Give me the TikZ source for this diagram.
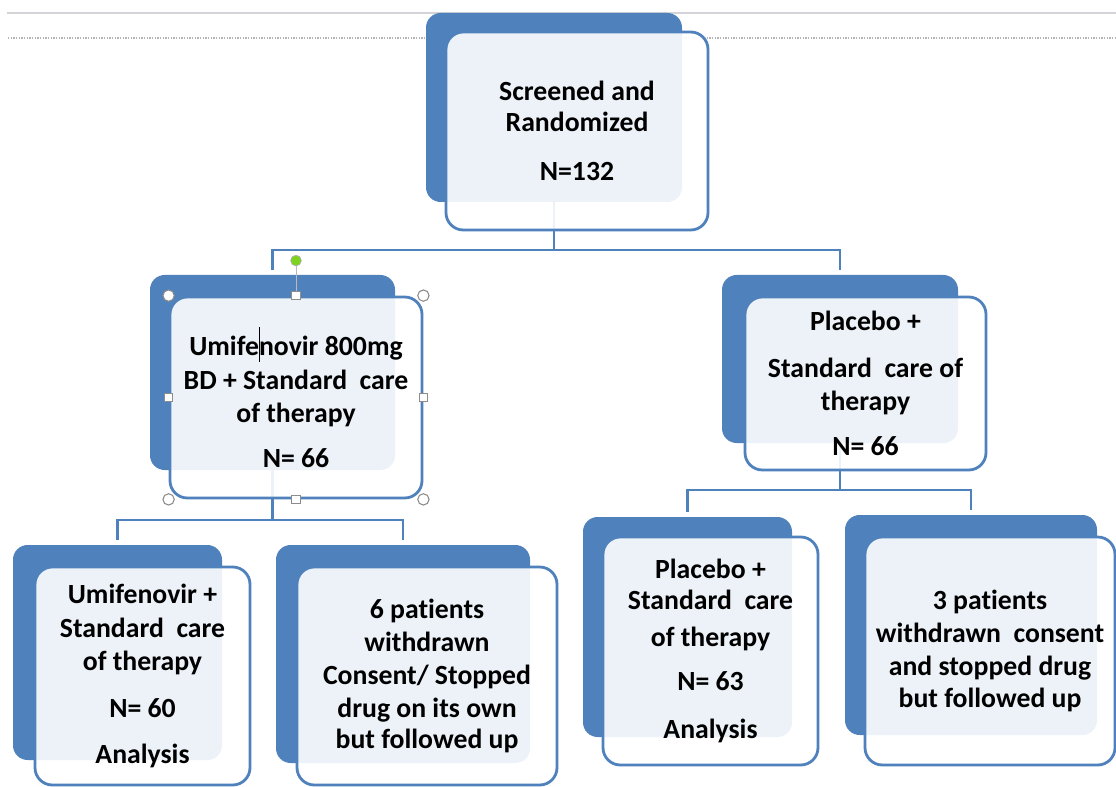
\documentclass[tikz,border=0pt]{standalone}
\usepackage{fontspec}
\setmainfont{Carlito}[Ligatures=NoCommon]
\usetikzlibrary{calc}
\definecolor{smblue}{HTML}{4F81BD}
\definecolor{handlegray}{HTML}{8C8C8C}
\definecolor{rotgreen}{HTML}{7ED321}
\definecolor{ruleline}{HTML}{D4D4D8}
\definecolor{dotline}{HTML}{B4B4B8}

\begin{document}
\begin{tikzpicture}[x=0.75pt,y=-0.75pt,
  box/.style n args={2}{minimum width=#1*0.75pt, minimum height=#2*0.75pt},
  back/.style={fill=smblue, draw=none, rounded corners=11pt, inner sep=0pt},
  front/.style={draw=smblue, line width=2.1pt, fill=white, fill opacity=0.9,
    text opacity=1, rounded corners=13pt, inner sep=0pt, align=center,
    font=\fontsize{20.8}{24.75}\selectfont\bfseries},
  conn/.style={draw=smblue, line width=2.1pt},
  drop/.style={conn, shorten >=3.75pt},
  handle/.style={circle, draw=handlegray, fill=white, line width=0.8pt,
    minimum size=8.5pt, inner sep=0pt},
  sqhandle/.style={rectangle, draw=handlegray, fill=white, line width=0.8pt,
    minimum size=6.5pt, inner sep=0pt}]

% page
\fill[white] (0,0) rectangle (1116,787);
\useasboundingbox (0,0) rectangle (1116,787);

% ruler lines along the top
\coordinate (ruleA) at (7,13);
\coordinate (ruleB) at (1116,13);
\coordinate (dotA) at (8,38);
\coordinate (dotB) at (1116,38);
\draw[ruleline, line width=1pt] (ruleA) -- (ruleB);
\draw[dotline, line width=1.6pt, dash pattern=on 1pt off 1pt] (dotA) -- (dotB);

% back plates
\node[back, box={256}{189}] (tb)  at (554,107.5) {};
\node[back, box={245}{195}] (lb)  at (272.5,372.5) {};
\node[back, box={236}{168}] (rb)  at (840,359) {};
\node[back, box={209}{215}] (lb1) at (117.5,652.5) {};
\node[back, box={254}{218}] (lb2) at (403,654) {};
\node[back, box={209}{220}] (rb1) at (687.5,627) {};
\node[back, box={252}{220}] (rb2) at (971,625) {};

% connector buses
\coordinate (busTop) at (0,250);
\coordinate (busLeft) at (0,520);
\coordinate (busRight) at (0,490);
\draw[drop] (tb.south) -- (tb.south |- busTop) -| (lb.north);
\draw[drop] (tb.south) -- (tb.south |- busTop) -| (rb.north);
\draw[drop] (lb.south) -- (lb.south |- busLeft) -| (lb1.north);
\draw[drop] (lb.south) -- (lb.south |- busLeft) -| (lb2.north);
\draw[drop] (rb.south) -- (rb.south |- busRight) -| (rb1.north);
\draw[drop] (rb.south) -- (rb.south |- busRight) -| (rb2.north);

% front cards with text
\node[front, box={262}{198}] (tf) at (577,131)
  {Screened and\\[-1.5pt]Randomized\\[12pt]N=132};
\node[front, box={252}{201}] (lf) at (296,397.5)
  {Umife\makebox[0pt]{\rule[-0.22em]{0.6pt}{1.25em}}novir 800mg\\[0.75pt]BD + Standard~~care\\of therapy\\[9pt]N= 66};
\node[front, box={241}{173}] (rf) at (865.5,383.5)
  {Placebo +\\[10.5pt]Standard~~care of\\therapy\\[9pt]N= 66};
\node[front, box={215}{218}] (lf1) at (142.5,676)
  {Umifenovir +\\[0.75pt]Standard~~care\\of therapy\\[10.5pt]N= 60\\[9.75pt]Analysis};
\node[front, box={260}{218}] (lf2) at (427,676)
  {6 patients\\withdrawn\\Consent/ Stopped\\drug on its own\\[-2pt]but followed up};
\node[front, box={215}{228}] (rf1) at (710.5,651)
  {Placebo +\\[-1.5pt]Standard~~care\\[3pt]of therapy\\[8.25pt]N= 63\\[11.25pt]Analysis};
\node[front, box={250}{228}] (rf2) at (990,651)
  {3 patients\\withdrawn~~consent\\and stopped drug\\[-1pt]but followed up};

% selection handles on the active card
\node[sqhandle] (hn) at (lf.north) {};
\node[circle, fill=rotgreen, draw=handlegray!70, line width=0.5pt,
  minimum size=8pt, inner sep=0pt] (hrot) at ($(lf.north)+(0,-35)$) {};
\draw[handlegray!60, line width=0.5pt] (hrot) -- (hn);
\node[handle] (hnw) at (lf.north west) {};
\node[handle] (hne) at (lf.north east) {};
\node[handle] (hsw) at (lf.south west) {};
\node[handle] (hse) at (lf.south east) {};
\node[sqhandle] (hs) at (lf.south) {};
\node[sqhandle] (hw) at (lf.west) {};
\node[sqhandle] (he) at (lf.east) {};
\end{tikzpicture}
\end{document}
